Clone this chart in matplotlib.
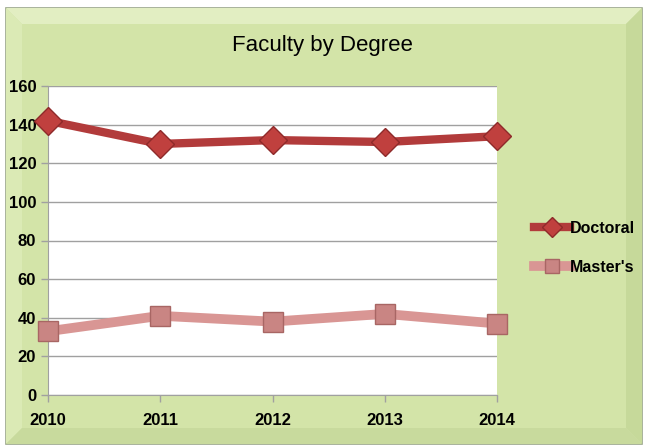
import matplotlib.pyplot as plt
from matplotlib.patches import Rectangle, Polygon
from matplotlib import font_manager

years = ["2010", "2011", "2012", "2013", "2014"]
doctoral = [142, 130, 132, 131, 134]
masters = [33, 41, 38, 42, 37]

fam = ["Liberation Sans Narrow", "DejaVu Sans"]
installed = {f.name for f in font_manager.fontManager.ttflist}
if "Liberation Sans Narrow" not in installed:
    fam = ["Liberation Sans", "DejaVu Sans"]
plt.rcParams["font.family"] = fam

W, H = 645, 446
fig = plt.figure(figsize=(W / 100, H / 100), dpi=100)
fig.patch.set_facecolor("white")

# bevelled green frame, in pixel coords turned into figure fractions
def px(x, y):
    return (x / W, 1 - y / H)

x0, y0, x1, y1 = 6, 8, 642, 444
b = 16
base = "#d3e4a8"
fig.patches.append(Rectangle(px(x0, y1), (x1 - x0) / W, (y1 - y0) / H,
                             transform=fig.transFigure, facecolor=base,
                             edgecolor="#9aa68a", lw=1.2, zorder=-10))
bevels = [
    ([(x0, y0), (x1, y0), (x1 - b, y0 + b), (x0 + b, y0 + b)], "#e2eec2"),  # top
    ([(x0, y0), (x0 + b, y0 + b), (x0 + b, y1 - b), (x0, y1)], "#dbeab5"),  # left
    ([(x1, y0), (x1, y1), (x1 - b, y1 - b), (x1 - b, y0 + b)], "#c6d99a"),  # right
    ([(x0, y1), (x1, y1), (x1 - b, y1 - b), (x0 + b, y1 - b)], "#c8da9d"),  # bottom
]
for pts, c in bevels:
    fig.patches.append(Polygon([px(*p) for p in pts], closed=True,
                               transform=fig.transFigure, facecolor=c,
                               edgecolor="none", zorder=-9))

ax = fig.add_axes([48 / W, 1 - 395 / H, (497 - 48) / W, (395 - 86) / H])
ax.set_facecolor("white")
xs = range(len(years))

ax.plot(xs, doctoral, color="#b23b3b", lw=6, marker="D", ms=14,
        markerfacecolor="#c0403e", markeredgecolor="#8e2a2a", mew=1,
        label="Doctoral", zorder=4, clip_on=False)
ax.plot(xs, masters, color="#d99694", lw=7, marker="s", ms=14,
        markerfacecolor="#c98583", markeredgecolor="#a86664", mew=1,
        label="Master's", zorder=4, clip_on=False)

ax.set_xlim(0, len(years) - 1)
ax.set_ylim(0, 160)
ax.set_yticks(range(0, 161, 20))
ax.set_xticks(list(xs))
ax.set_xticklabels(years)
ax.yaxis.grid(True, color="#a0a0a0", lw=1)
ax.set_axisbelow(True)
for s in ["top", "right"]:
    ax.spines[s].set_visible(False)
ax.spines["left"].set_color("#a0a0a0")
ax.spines["bottom"].set_color("#a0a0a0")
ax.tick_params(axis="both", colors="#a0a0a0", length=5, width=1,
               labelcolor="black", labelsize=12)
for lab in ax.get_xticklabels() + ax.get_yticklabels():
    lab.set_fontweight("bold")
ax.tick_params(axis="x", pad=8)

fig.text(0.5, 1 - 45 / H, "Faculty by Degree", ha="center", va="center",
         fontsize=16)

leg = fig.legend(loc="center left", bbox_to_anchor=(520 / W, 1 - 248 / H),
                 frameon=False, fontsize=11.5, handlelength=2.2,
                 handletextpad=0.0, labelspacing=1.5, markerscale=0.75)
for t in leg.get_texts():
    t.set_fontweight("bold")

fig.savefig("out.png", dpi=100, facecolor=fig.get_facecolor())
